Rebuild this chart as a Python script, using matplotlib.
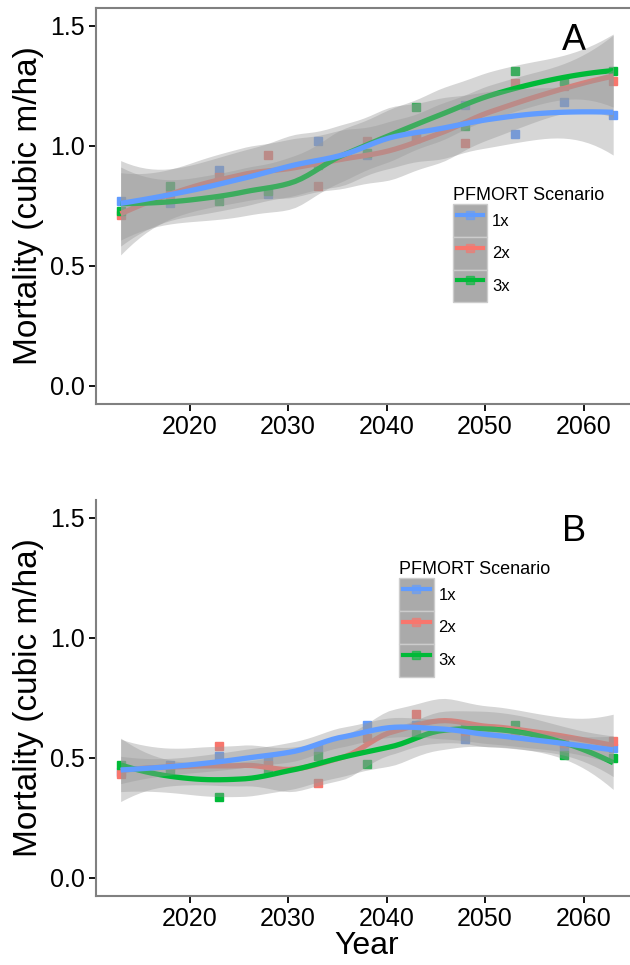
import math
import numpy as np
import matplotlib
matplotlib.use("Agg")
import matplotlib.pyplot as plt
from matplotlib.lines import Line2D
from matplotlib.patches import Rectangle
from matplotlib.legend_handler import HandlerTuple, HandlerLine2D

plt.rcParams['font.family'] = ['Liberation Sans', 'DejaVu Sans']

years = [2013, 2018, 2023, 2028, 2033, 2038, 2043, 2048, 2053, 2058, 2063]
scenarios = ["1x", "2x", "3x"]
colors = {"1x": "#619CFF", "2x": "#F8766D", "3x": "#00BA38"}

# panel A
a_1x = [0.77, 0.76, 0.90, 0.80, 1.02, 0.96, 1.03, 1.17, 1.05, 1.18, 1.13]
a_2x = [0.71, 0.80, 0.87, 0.96, 0.83, 1.02, 1.03, 1.01, 1.26, 1.25, 1.27]
a_3x = [0.73, 0.83, 0.77, 0.81, 0.92, 0.97, 1.16, 1.08, 1.31, 1.27, 1.31]

# panel B
b_1x = [0.44, 0.47, 0.505, 0.49, 0.537, 0.634, 0.637, 0.577, 0.595, 0.54, 0.54]
b_2x = [0.43, 0.46, 0.546, 0.47, 0.393, 0.58, 0.682, 0.61, 0.60, 0.56, 0.57]
b_3x = [0.47, 0.446, 0.337, 0.446, 0.507, 0.473, 0.60, 0.63, 0.634, 0.51, 0.50]

panel_letters = ["A", "B"]


def local_fit_rows(x, x0, q):
    # local quadratic with tricube weights; rows for value and slope at x0
    d = np.abs(x - x0)
    h = np.sort(d)[q - 1]
    u = np.clip(d / h, 0, 1)
    w = (1 - u ** 3) ** 3
    X = np.column_stack([np.ones_like(x), x - x0, (x - x0) ** 2])
    XtW = X.T * w
    coef = np.linalg.solve(XtW @ X, XtW)
    return coef[0], coef[1]


def hermite_rows(xs, verts, vals, slopes):
    rows = []
    for xv in xs:
        j = min(np.searchsorted(verts, xv, side="right") - 1, len(verts) - 2)
        hs = verts[j + 1] - verts[j]
        t = (xv - verts[j]) / hs
        h00 = 2 * t ** 3 - 3 * t ** 2 + 1
        h10 = t ** 3 - 2 * t ** 2 + t
        h01 = -2 * t ** 3 + 3 * t ** 2
        h11 = t ** 3 - t ** 2
        rows.append(h00 * vals[j] + h10 * hs * slopes[j]
                    + h01 * vals[j + 1] + h11 * hs * slopes[j + 1])
    return np.array(rows)


def t_quantile(df, p=0.975):
    c = math.gamma((df + 1) / 2) / (math.sqrt(df * math.pi) * math.gamma(df / 2))
    t = np.linspace(0, 20, 200001)
    pdf = c * (1 + t ** 2 / df) ** (-(df + 1) / 2)
    cdf = 0.5 + np.concatenate([[0], np.cumsum((pdf[1:] + pdf[:-1]) / 2 * np.diff(t))])
    return float(np.interp(p, cdf, t))


def loess_smooth(x, y, span=0.75, n_grid=80):
    # loess like R: fits at kd-tree vertices, cubic interpolation between them
    x = np.asarray(x, float)
    y = np.asarray(y, float)
    q = int(np.floor(len(x) * span))
    mu = 0.005 * (x.max() - x.min())
    verts = np.concatenate([[x.min() - mu], (x[1:] + x[:-1]) / 2, [x.max() + mu]])
    vals, slopes = [], []
    for v in verts:
        r0, r1 = local_fit_rows(x, v, q)
        vals.append(r0)
        slopes.append(r1)
    L = hermite_rows(x, verts, vals, slopes)
    resid = y - L @ y
    R = np.eye(len(x)) - L
    M = R.T @ R
    d1 = np.trace(M)
    d2 = np.trace(M @ M)
    s = math.sqrt(np.sum(resid ** 2) / d1)
    tq = t_quantile(d1 ** 2 / d2)
    xg = np.linspace(x.min(), x.max(), n_grid)
    Lg = hermite_rows(xg, verts, vals, slopes)
    fit = Lg @ y
    se = s * np.sqrt(np.sum(Lg ** 2, axis=1))
    return xg, fit, fit - tq * se, fit + tq * se


def draw_panel(ax, series, letter, legend_xy, show_xlabel, top_line):
    z = 3
    for sc in scenarios:
        ax.plot(years, series[sc], linestyle="none", marker="s", ms=6.4,
                color=colors[sc], zorder=z)
    z += 1
    for sc in ["2x", "3x", "1x"]:
        xg, fit, lo, hi = loess_smooth(years, series[sc])
        ax.fill_between(xg, lo, hi, color="#999999", alpha=0.4, lw=0, zorder=z)
        ax.plot(xg, fit, color=colors[sc], lw=3.8, solid_capstyle="butt", zorder=z + 1)
        z += 2

    ax.set_xlim(2010.5, 2065.5)
    ax.set_ylim(-0.075, 1.575)
    ax.set_xticks([2020, 2030, 2040, 2050, 2060])
    ax.set_yticks([0.0, 0.5, 1.0, 1.5])
    ax.set_yticklabels(["0.0", "0.5", "1.0", "1.5"])
    ax.tick_params(length=5, width=1.3, color="black", labelsize=18, pad=3)
    ax.spines["right"].set_visible(False)
    ax.spines["top"].set_visible(top_line)
    for side in ["left", "bottom", "top"]:
        ax.spines[side].set_color("#808080")
        ax.spines[side].set_linewidth(1.5)
    ax.set_ylabel("Mortality (cubic m/ha)", fontsize=24, labelpad=4)
    if show_xlabel:
        ax.set_xlabel("Year", fontsize=23, labelpad=0)
    ax.text(2059, 1.44, letter, fontsize=26, ha="center", va="center")

    handles = []
    hmap = {tuple: HandlerTuple(ndivide=1, pad=0)}
    for sc in scenarios:
        bg = Rectangle((0, 0), 1, 1, facecolor="#aaaaaa", edgecolor="#cccccc", lw=1)
        ln = Line2D([], [], color=colors[sc], lw=3)
        mk = Line2D([], [], color=colors[sc], linestyle="none", marker="s", ms=6, alpha=0.6)
        hmap[ln] = HandlerLine2D(numpoints=2, marker_pad=0.24)
        handles.append((bg, ln, mk))
    leg = ax.legend(handles, scenarios, title="PFMORT Scenario", handler_map=hmap,
                    loc="upper left", bbox_to_anchor=legend_xy, frameon=False,
                    fontsize=12, title_fontsize=13, handlelength=2.08,
                    handleheight=2.65, labelspacing=0, handletextpad=0.3,
                    borderpad=0, borderaxespad=0, alignment="left")
    leg.set_zorder(20)


fig = plt.figure(figsize=(6.3, 9.65), dpi=100)
ax_a = fig.add_axes([96 / 630, 1 - 403.7 / 965, 541.8 / 630, 396 / 965])
ax_b = fig.add_axes([96 / 630, 1 - 895.5 / 965, 541.8 / 630, 396 / 965])

draw_panel(ax_a, {"1x": a_1x, "2x": a_2x, "3x": a_3x}, panel_letters[0], (0.658, 0.547), False, True)
draw_panel(ax_b, {"1x": b_1x, "2x": b_2x, "3x": b_3x}, panel_letters[1], (0.559, 0.844), True, False)

fig.savefig("out.png", dpi=100)
